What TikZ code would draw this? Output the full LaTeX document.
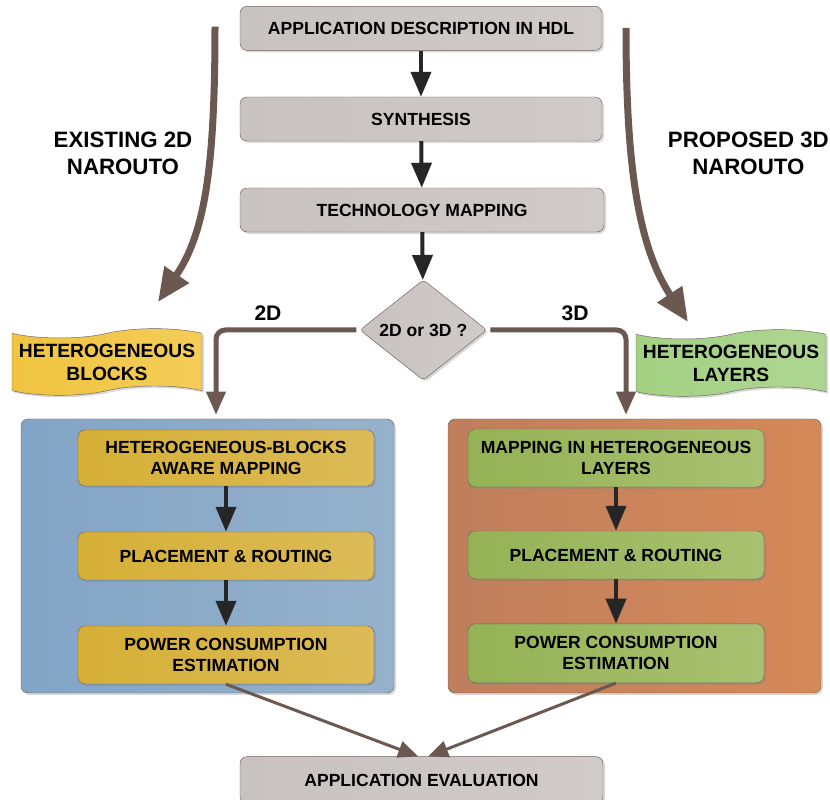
\documentclass[tikz,border=0pt]{standalone}
\usepackage{fontspec}
\setmainfont{Liberation Sans}
\setsansfont{Liberation Sans}
\usetikzlibrary{arrows.meta,positioning,shapes.geometric,shapes.symbols,shadows}

\definecolor{boxgrayA}{HTML}{C8C2C0}
\definecolor{boxgrayB}{HTML}{D0CBC9}
\definecolor{edgegray}{HTML}{6E6360}
\definecolor{flowbrown}{HTML}{6B5850}
\definecolor{blueA}{HTML}{82A4C5}
\definecolor{blueB}{HTML}{96B2CD}
\definecolor{orangeA}{HTML}{BF7E5C}
\definecolor{orangeB}{HTML}{D68958}
\definecolor{goldA}{HTML}{D5AF35}
\definecolor{goldB}{HTML}{DCBB58}
\definecolor{leafA}{HTML}{95B255}
\definecolor{leafB}{HTML}{A8C170}
\definecolor{flagyA}{HTML}{F0C440}
\definecolor{flagyB}{HTML}{F4CD58}
\definecolor{flaggA}{HTML}{A3D183}
\definecolor{flaggB}{HTML}{AED692}

\begin{document}
\begin{tikzpicture}[
  font=\sffamily\bfseries,
  softshadow/.style={drop shadow={shadow xshift=0.6mm, shadow yshift=-0.6mm, opacity=0.3}},
  stepbox/.style={draw=edgegray, rounded corners=6pt, align=center, inner sep=0pt,
    minimum width=10.86cm, minimum height=1.32cm, left color=boxgrayA, right color=boxgrayB,
    font=\sffamily\bfseries\fontsize{15}{18}\selectfont, softshadow},
  innerbox/.style={draw=edgegray, rounded corners=6pt, align=center, inner sep=0pt,
    minimum width=8.88cm, font=\sffamily\bfseries\fontsize{15}{18}\selectfont, softshadow},
  panel/.style={draw=edgegray, rounded corners=6pt, minimum width=11.19cm, minimum height=8.22cm, softshadow},
  flag/.style={tape, draw=edgegray, align=center, tape bend height=0.28cm, inner sep=0pt,
    minimum width=5.7cm, minimum height=2.0cm, font=\sffamily\bfseries\fontsize{16.4}{19.6}\selectfont, softshadow},
  choice/.style={diamond, draw=edgegray, rounded corners=3pt, inner sep=0pt,
    minimum width=3.81cm, minimum height=2.88cm, left color=boxgrayA, right color=boxgrayB,
    font=\sffamily\bfseries\fontsize{15}{18}\selectfont, softshadow},
  flowlabel/.style={align=center, font=\sffamily\bfseries\fontsize{19}{23}\selectfont},
  branchlabel/.style={font=\sffamily\bfseries\fontsize{18}{21}\selectfont},
  arrow/.style={-{Triangle[length=7.5mm, width=6mm]}, line width=1.2mm, draw=black!85},
  brownarrow/.style={-{Triangle[length=7mm, width=5.6mm]}, line width=1.5mm, draw=flowbrown, rounded corners=8pt},
  thinbrown/.style={-{Triangle[length=6mm, width=5mm]}, line width=0.9mm, draw=flowbrown},
  bigarrow/.style={-{Triangle[length=10mm, width=8.5mm]}, line width=2.1mm, draw=flowbrown}
]
\useasboundingbox (0,0) rectangle (24.9,24);

% main flow
\node[stepbox] (app) at (12.63,23.15) {APPLICATION DESCRIPTION IN HDL};
\node[stepbox] (synth) at (12.63,20.43) {SYNTHESIS};
\node[stepbox, minimum width=10.92cm] (techmap) at (12.66,17.7) {TECHNOLOGY MAPPING};
\node[choice] (sel) at (12.7,14.1) {2D or 3D ?};

\draw[arrow] (app) -- (synth);
\draw[arrow] (synth) -- (techmap);
\draw[arrow] (techmap) -- (sel);

% the two flows
\node[flowlabel] (exist) at (3.69,19.4) {EXISTING 2D\\NAROUTO};
\node[flowlabel] (prop) at (22.45,19.4) {PROPOSED 3D\\NAROUTO};

\coordinate (exstart) at (6.45,23.2);
\coordinate (exend) at (4.74,14.94);
\coordinate (prstart) at (18.78,23.16);
\coordinate (prend) at (20.64,14.34);
\draw[bigarrow] (exstart) .. controls (6.45,19) and (6.15,17) .. (exend);
\draw[bigarrow] (prstart) .. controls (18.78,19) and (19.15,16.6) .. (prend);

\node[flag, left color=flagyA, right color=flagyB] (blocks) at (3.21,13.14) {HETEROGENEOUS\\BLOCKS};
\node[flag, left color=flaggA, right color=flaggB] (layers) at (21.93,13.11) {HETEROGENEOUS\\LAYERS};

% 2D / 3D branches
\coordinate (to2d) at (6.48,11.55);
\coordinate (to3d) at (18.78,11.55);
\draw[brownarrow, shorten <=1mm] (sel.west) -| (to2d);
\draw[brownarrow, shorten <=1mm] (sel.east) -| (to3d);
\node[branchlabel] (lab2d) at (8.04,14.61) {2D};
\node[branchlabel] (lab3d) at (17.25,14.61) {3D};

\node[panel, left color=blueA, right color=blueB] (panel2d) at (6.225,7.32) {};
\node[panel, left color=orangeA, right color=orangeB] (panel3d) at (19.035,7.32) {};

\node[innerbox, minimum height=1.68cm, left color=goldA, right color=goldB] (hbmap) at (6.78,10.26) {HETEROGENEOUS-BLOCKS\\AWARE MAPPING};
\node[innerbox, minimum height=1.44cm, left color=goldA, right color=goldB] (pr2d) at (6.78,7.32) {PLACEMENT \& ROUTING};
\node[innerbox, minimum height=1.74cm, left color=goldA, right color=goldB] (pow2d) at (6.78,4.35) {POWER CONSUMPTION\\ESTIMATION};

\node[innerbox, minimum height=1.74cm, left color=leafA, right color=leafB] (hlmap) at (18.48,10.26) {MAPPING IN HETEROGENEOUS\\LAYERS};
\node[innerbox, minimum height=1.44cm, left color=leafA, right color=leafB] (pr3d) at (18.48,7.35) {PLACEMENT \& ROUTING};
\node[innerbox, minimum height=1.77cm, left color=leafA, right color=leafB] (pow3d) at (18.48,4.4) {POWER CONSUMPTION\\ESTIMATION};

\draw[arrow] (hbmap) -- (pr2d);
\draw[arrow] (pr2d) -- (pow2d);
\draw[arrow] (hlmap) -- (pr3d);
\draw[arrow] (pr3d) -- (pow3d);

% evaluation
\node[stepbox, minimum width=10.89cm, minimum height=1.4cm] (eval) at (12.645,0.6) {APPLICATION EVALUATION};
\draw[thinbrown] (pow2d.south) -- ([xshift=-1mm]eval.north);
\draw[thinbrown] (pow3d.south) -- ([xshift=2mm]eval.north);

\end{tikzpicture}
\end{document}
